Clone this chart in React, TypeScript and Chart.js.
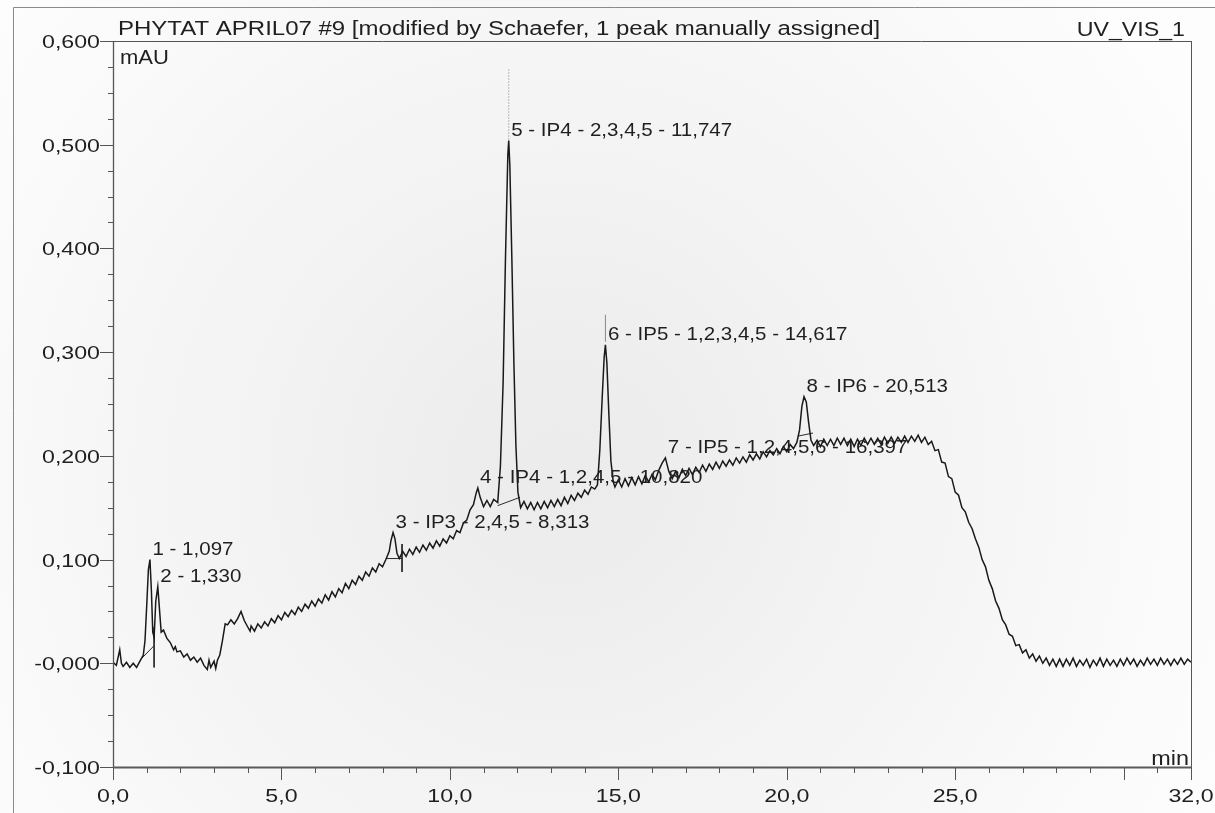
import React, { useEffect, useRef } from 'react';
import { Chart, registerables } from 'chart.js';

Chart.register(...registerables);

// ---- Chromatogram trace: [time (min), absorbance (mAU)] ----
const traceSolventFront: [number, number][] = [
  [0.0, 0.001], [0.1, -0.002], [0.2, 0.013], [0.25, 0.0], [0.3, -0.003], [0.4, 0.001],
  [0.5, -0.004], [0.6, 0.0], [0.7, -0.004], [0.8, 0.002], [0.9, 0.008], [0.95, 0.022],
  [1.0, 0.055], [1.05, 0.09], [1.097, 0.1], [1.14, 0.07], [1.18, 0.03], [1.22, 0.025],
  [1.27, 0.06], [1.33, 0.074], [1.38, 0.052], [1.43, 0.03], [1.5, 0.032], [1.55, 0.028],
  [1.6, 0.024], [1.7, 0.02], [1.8, 0.013], [1.85, 0.016], [1.9, 0.011], [2.0, 0.012],
  [2.1, 0.006], [2.2, 0.009], [2.3, 0.003], [2.4, 0.006], [2.5, 0.001], [2.6, 0.005],
  [2.7, -0.002], [2.8, -0.006], [2.85, 0.003], [2.9, -0.004], [3.0, 0.002], [3.05, -0.005],
  [3.1, 0.003], [3.17, 0.008], [3.25, 0.022], [3.33, 0.038], [3.4, 0.037], [3.5, 0.042],
  [3.6, 0.038], [3.7, 0.043], [3.8, 0.05], [3.9, 0.041], [4.0, 0.035], [4.07, 0.031],
  [4.1, 0.036],
];

const traceGradient: [number, number][] = [
  [4.2, 0.031], [4.3, 0.038], [4.4, 0.034], [4.5, 0.04], [4.6, 0.036], [4.7, 0.043],
  [4.8, 0.039], [4.9, 0.046], [5.0, 0.042], [5.1, 0.049], [5.2, 0.045], [5.3, 0.051],
  [5.4, 0.047], [5.5, 0.054], [5.6, 0.05], [5.7, 0.057], [5.8, 0.053], [5.9, 0.06],
  [6.0, 0.055], [6.1, 0.062], [6.2, 0.058], [6.3, 0.066], [6.4, 0.061], [6.5, 0.069],
  [6.6, 0.064], [6.7, 0.072], [6.8, 0.068], [6.9, 0.077], [7.0, 0.072], [7.1, 0.08],
  [7.2, 0.076], [7.3, 0.084], [7.4, 0.08], [7.5, 0.088], [7.6, 0.084], [7.7, 0.092],
  [7.8, 0.088], [7.9, 0.096], [8.0, 0.093], [8.1, 0.1], [8.2, 0.108], [8.25, 0.118],
  [8.313, 0.126], [8.37, 0.12], [8.43, 0.106], [8.5, 0.101], [8.6, 0.108], [8.7, 0.103],
  [8.8, 0.11], [8.9, 0.105], [9.0, 0.112], [9.1, 0.107], [9.2, 0.114], [9.3, 0.109],
  [9.4, 0.116], [9.5, 0.111], [9.6, 0.118], [9.7, 0.113], [9.8, 0.12], [9.9, 0.116],
  [10.0, 0.123], [10.1, 0.12], [10.2, 0.128], [10.3, 0.126], [10.4, 0.135], [10.5, 0.138],
  [10.6, 0.148], [10.7, 0.153], [10.78, 0.164], [10.83, 0.169], [10.9, 0.16], [11.0, 0.151],
  [11.1, 0.157], [11.2, 0.151], [11.3, 0.158], [11.42, 0.155],
];

const traceMainPeaks: [number, number][] = [
  [11.5, 0.19], [11.58, 0.27], [11.65, 0.39], [11.72, 0.49], [11.747, 0.504], [11.78, 0.48],
  [11.84, 0.39], [11.9, 0.29], [11.96, 0.21], [12.02, 0.165], [12.1, 0.15], [12.2, 0.156],
  [12.3, 0.149], [12.4, 0.155], [12.5, 0.148], [12.6, 0.155], [12.7, 0.149], [12.8, 0.156],
  [12.9, 0.15], [13.0, 0.157], [13.1, 0.151], [13.2, 0.158], [13.3, 0.152], [13.4, 0.16],
  [13.5, 0.154], [13.6, 0.162], [13.7, 0.157], [13.8, 0.164], [13.9, 0.16], [14.0, 0.167],
  [14.1, 0.163], [14.2, 0.17], [14.3, 0.168], [14.38, 0.172], [14.45, 0.205], [14.52, 0.255],
  [14.58, 0.295], [14.617, 0.307], [14.66, 0.29], [14.72, 0.24], [14.78, 0.195], [14.85, 0.175],
  [14.9, 0.17], [15.0, 0.177], [15.1, 0.17], [15.2, 0.178], [15.3, 0.171], [15.4, 0.179],
  [15.5, 0.172], [15.6, 0.18], [15.7, 0.173], [15.8, 0.181], [15.9, 0.175], [16.0, 0.182],
  [16.1, 0.177], [16.2, 0.186], [16.3, 0.193], [16.397, 0.198], [16.5, 0.185], [16.6, 0.178],
  [16.7, 0.185], [16.8, 0.179], [16.9, 0.187], [17.0, 0.181], [17.1, 0.188], [17.2, 0.182],
  [17.3, 0.189], [17.4, 0.184], [17.5, 0.191], [17.6, 0.185], [17.7, 0.192], [17.8, 0.187],
  [17.9, 0.194], [18.0, 0.188], [18.1, 0.195], [18.2, 0.19], [18.3, 0.196], [18.4, 0.191],
  [18.5, 0.198], [18.6, 0.193], [18.7, 0.199], [18.8, 0.194], [18.9, 0.201], [19.0, 0.196],
  [19.1, 0.202], [19.2, 0.197], [19.3, 0.204], [19.4, 0.199], [19.5, 0.205], [19.6, 0.201],
  [19.7, 0.207], [19.8, 0.202], [19.9, 0.209], [20.0, 0.204], [20.1, 0.211], [20.2, 0.207],
  [20.3, 0.213], [20.38, 0.225], [20.45, 0.248], [20.513, 0.257], [20.58, 0.252], [20.65, 0.232],
  [20.72, 0.215], [20.8, 0.21],
];

const tracePlateau: [number, number][] = [
  [20.9, 0.215], [21.0, 0.209], [21.1, 0.216], [21.2, 0.21], [21.3, 0.216], [21.4, 0.21],
  [21.5, 0.217], [21.6, 0.211], [21.7, 0.217], [21.8, 0.21], [21.9, 0.216], [22.0, 0.209],
  [22.1, 0.216], [22.2, 0.21], [22.3, 0.217], [22.4, 0.211], [22.5, 0.217], [22.6, 0.211],
  [22.7, 0.217], [22.8, 0.211], [22.9, 0.218], [23.0, 0.212], [23.1, 0.218], [23.2, 0.212],
  [23.3, 0.218], [23.4, 0.213], [23.5, 0.219], [23.6, 0.213], [23.7, 0.219], [23.8, 0.214],
  [23.9, 0.22], [24.0, 0.213], [24.1, 0.218], [24.2, 0.211], [24.3, 0.214], [24.4, 0.205],
  [24.5, 0.206], [24.6, 0.194], [24.7, 0.193], [24.8, 0.18], [24.9, 0.178], [25.0, 0.165],
  [25.1, 0.162], [25.2, 0.15], [25.3, 0.146], [25.4, 0.136], [25.5, 0.13], [25.6, 0.12],
  [25.7, 0.112], [25.8, 0.1], [25.9, 0.093], [26.0, 0.08], [26.1, 0.072], [26.2, 0.06],
  [26.3, 0.053], [26.4, 0.042], [26.5, 0.037], [26.6, 0.028], [26.7, 0.026], [26.8, 0.017],
  [26.9, 0.018], [27.0, 0.01], [27.1, 0.013], [27.2, 0.005], [27.3, 0.009], [27.4, 0.002],
  [27.5, 0.007], [27.6, 0.0], [27.7, 0.005], [27.8, -0.002], [27.9, 0.004], [28.0, -0.003],
];

const traceTail: [number, number][] = [
  [28.1, 0.004], [28.2, -0.003], [28.3, 0.004], [28.4, -0.002], [28.5, 0.005], [28.6, -0.003],
  [28.7, 0.003], [28.8, -0.002], [28.9, 0.004], [29.0, -0.004], [29.1, 0.003], [29.2, -0.002],
  [29.3, 0.005], [29.4, -0.003], [29.5, 0.004], [29.6, -0.002], [29.7, 0.003], [29.8, -0.003],
  [29.9, 0.004], [30.0, -0.002], [30.1, 0.005], [30.2, -0.001], [30.3, 0.004], [30.4, -0.003],
  [30.5, 0.003], [30.6, -0.002], [30.7, 0.005], [30.8, -0.001], [30.9, 0.004], [31.0, -0.002],
  [31.1, 0.005], [31.2, -0.001], [31.3, 0.004], [31.4, -0.002], [31.5, 0.004], [31.6, -0.001],
  [31.7, 0.005], [31.8, -0.001], [31.9, 0.004], [32.0, 0.001],
];

// ---- Peaks ----
const peakTimes = [1.097, 1.33, 8.313, 10.82, 11.747, 14.617, 16.397, 20.513];
const peakHeights = [0.1, 0.074, 0.126, 0.169, 0.504, 0.307, 0.198, 0.257];
const peakNames = ['', '', 'IP3 - 2,4,5', 'IP4 - 1,2,4,5', 'IP4 - 2,3,4,5', 'IP5 - 1,2,3,4,5', 'IP5 - 1,2,4,5,6', 'IP6'];

// integration baselines / delimiters
const integrationMarks: [number, number][][] = [
  [[0.86, 0.005], [1.22, 0.017]],
  [[1.22, 0.035], [1.22, -0.004]],
  [[8.13, 0.101], [8.58, 0.101]],
  [[8.58, 0.115], [8.58, 0.088]],
  [[11.42, 0.152], [12.08, 0.16]],
  [[20.33, 0.219], [20.78, 0.222]],
];
const apexMarker6: [number, number][] = [[14.617, 0.31], [14.617, 0.336]];
const manualPeakMarker: [number, number][] = [[11.747, 0.505], [11.747, 0.574]];

// ---- Axes ----
const xMin = 0;
const xMax = 32;
const yMin = -0.1;
const yMax = 0.6;
const xTickValues = [0, 5, 10, 15, 20, 25, 32];
const xTickLabels = ['0,0', '5,0', '10,0', '15,0', '20,0', '25,0', '32,0'];
const xMajorTicks = [0, 5, 10, 15, 20, 25, 30, 32];
const yTickValues = [-0.1, 0, 0.1, 0.2, 0.3, 0.4, 0.5, 0.6];
const yTickLabels = ['-0,100', '-0,000', '0,100', '0,200', '0,300', '0,400', '0,500', '0,600'];

const titleText = 'PHYTAT APRIL07 #9 [modified by Schaefer, 1 peak manually assigned]';
const channelText = 'UV_VIS_1';
const yUnit = 'mAU';
const xUnit = 'min';

const FONT = '"Liberation Sans", Arial, Helvetica, sans-serif';
const TEXT_COLOR = '#1f1f1f';
const LINE_COLOR = '#191919';

function stretchedText(
  ctx: CanvasRenderingContext2D,
  text: string,
  x: number,
  y: number,
  align: CanvasTextAlign,
  size: number,
  sx: number
) {
  ctx.save();
  ctx.font = `${size}px ${FONT}`;
  ctx.textAlign = align;
  ctx.textBaseline = 'alphabetic';
  ctx.fillStyle = TEXT_COLOR;
  ctx.translate(x, y);
  ctx.scale(sx, 1);
  ctx.fillText(text, 0, 0);
  ctx.restore();
}

function line(ctx: CanvasRenderingContext2D, x1: number, y1: number, x2: number, y2: number, color: string, w: number) {
  ctx.save();
  ctx.strokeStyle = color;
  ctx.lineWidth = w;
  ctx.beginPath();
  ctx.moveTo(x1, y1);
  ctx.lineTo(x2, y2);
  ctx.stroke();
  ctx.restore();
}

const chromPlugin = {
  id: 'chromFrame',
  beforeDraw(chart: any) {
    const { ctx, width, height } = chart;
    ctx.save();
    const g = ctx.createRadialGradient(560, 470, 40, 560, 470, 720);
    g.addColorStop(0, '#ececec');
    g.addColorStop(1, '#fdfdfd');
    ctx.fillStyle = g;
    ctx.fillRect(0, 0, width, height);
    ctx.restore();
  },
  afterDraw(chart: any) {
    const { ctx, chartArea } = chart;
    const xs = chart.scales.x;
    const ys = chart.scales.y;
    const { left, right, top, bottom } = chartArea;

    // outer frame
    line(ctx, 13.5, 7.5, 1215, 7.5, '#8a8a8a', 1);
    line(ctx, 13.5, 7.5, 13.5, 813, '#8a8a8a', 1);

    // plot frame
    line(ctx, left, top + 0.5, right, top + 0.5, '#555', 1);
    line(ctx, right + 0.5, top, right + 0.5, bottom, '#555', 1);
    line(ctx, left + 0.5, top, left + 0.5, bottom, '#555', 1.3);
    line(ctx, left, bottom + 0.5, right + 1, bottom + 0.5, '#5a5a5a', 2);

    // y ticks
    for (let v = yMin; v <= yMax + 1e-9; v += 0.025) {
      const py = Math.round(ys.getPixelForValue(v)) + 0.5;
      const isMajor = Math.abs(v * 10 - Math.round(v * 10)) < 1e-6;
      line(ctx, left - (isMajor ? 13 : 5), py, left, py, '#555', 1);
    }
    yTickValues.forEach((v, i) => {
      const py = ys.getPixelForValue(v);
      stretchedText(ctx, yTickLabels[i], left - 13, py + 7, 'right', 19, 1.22);
    });

    // x ticks
    for (let t = xMin; t <= xMax; t += 1) {
      const px = Math.round(xs.getPixelForValue(t)) + 0.5;
      const isMajor = xMajorTicks.includes(t);
      line(ctx, px, bottom, px, bottom + (isMajor ? 13 : 6), '#555', 1);
    }
    xTickValues.forEach((t, i) => {
      const px = xs.getPixelForValue(t);
      stretchedText(ctx, xTickLabels[i], px, bottom + 35, 'center', 19, 1.22);
    });

    // titles & units
    stretchedText(ctx, titleText, left + 5, top - 6, 'left', 20, 1.2);
    stretchedText(ctx, channelText, right - 6, top - 5, 'right', 20, 1.16);
    stretchedText(ctx, yUnit, left + 7, top + 23, 'left', 20, 1.1);
    stretchedText(ctx, xUnit, right - 2, bottom - 2, 'right', 20, 1.17);

    // peak labels
    peakTimes.forEach((t, i) => {
      const px = xs.getPixelForValue(t) + 2.5;
      const py = ys.getPixelForValue(peakHeights[i]) - 5;
      const rt = t.toFixed(3).replace('.', ',');
      const name = peakNames[i] ? `${peakNames[i]} - ` : '';
      stretchedText(ctx, `${i + 1} - ${name}${rt}`, px, py, 'left', 18, 1.14);
    });
  },
};

export default function App() {
  const canvasRef = useRef<HTMLCanvasElement | null>(null);

  useEffect(() => {
    if (!canvasRef.current) return;
    const toPts = (arr: [number, number][]) => arr.map(([x, y]) => ({ x, y }));
    const trace = [...traceSolventFront, ...traceGradient, ...traceMainPeaks, ...tracePlateau, ...traceTail];

    const datasets: any[] = [
      {
        label: 'UV_VIS_1',
        data: toPts(trace),
        borderColor: LINE_COLOR,
        borderWidth: 1.5,
        pointRadius: 0,
        tension: 0,
        order: 0,
      },
      ...integrationMarks.map((seg) => ({
        label: 'baseline',
        data: toPts(seg),
        borderColor: '#2a2a2a',
        borderWidth: 1,
        pointRadius: 0,
        order: 1,
      })),
      {
        label: 'apex6',
        data: toPts(apexMarker6),
        borderColor: '#888',
        borderWidth: 1,
        pointRadius: 0,
        order: 1,
      },
      {
        label: 'manual',
        data: toPts(manualPeakMarker),
        borderColor: '#7a7a7a',
        borderWidth: 1,
        borderDash: [1, 2],
        pointRadius: 0,
        order: 1,
      },
    ];

    const chart = new Chart(canvasRef.current, {
      type: 'line',
      data: { datasets },
      options: {
        responsive: false,
        animation: false,
        layout: { padding: { left: 113, top: 41, right: 24, bottom: 46 } },
        plugins: {
          legend: { display: false },
          tooltip: { enabled: false },
          title: { display: false },
        },
        scales: {
          x: { type: 'linear', min: xMin, max: xMax, display: false },
          y: { type: 'linear', min: yMin, max: yMax, display: false },
        },
        elements: { point: { radius: 0 }, line: { tension: 0 } },
      },
      plugins: [chromPlugin],
    } as any);

    return () => chart.destroy();
  }, []);

  return (
    <div style={{ position: 'fixed', left: 0, top: 0, width: 1215, height: 813, background: '#fff' }}>
      <canvas ref={canvasRef} width={1215} height={813} style={{ display: 'block' }} />
    </div>
  );
}
